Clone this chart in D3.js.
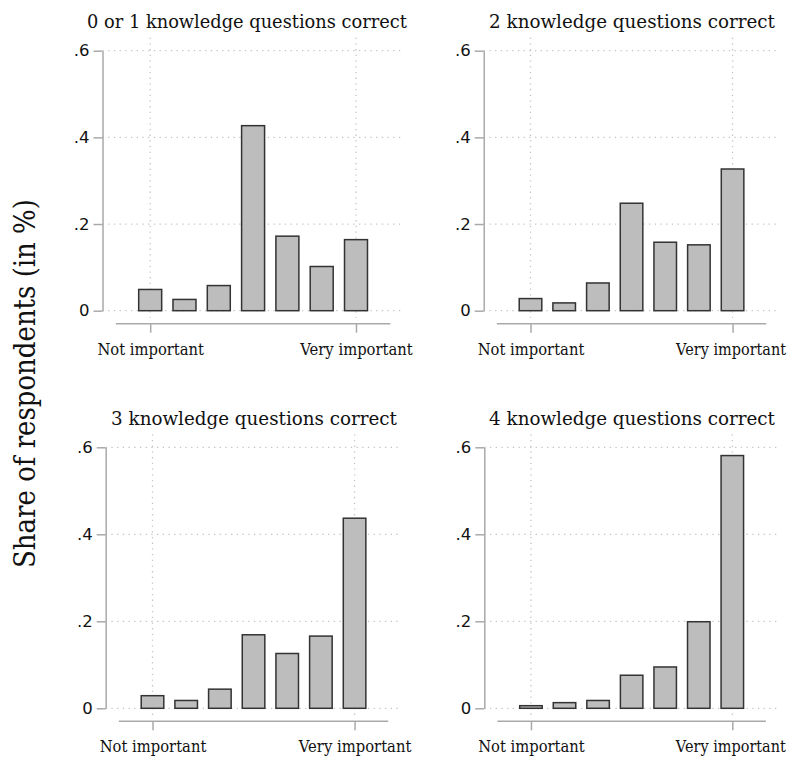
<!DOCTYPE html>
<html>
<head>
<meta charset="utf-8">
<script src="https://cdn.jsdelivr.net/npm/d3@7"></script>
<style>
  html, body { margin: 0; padding: 0; background: #fff; }
  svg { display: block; }
</style>
</head>
<body>
<svg id="chart" width="791" height="760"></svg>
<script>
// ---- data ----
const categories = [1, 2, 3, 4, 5, 6, 7];
const panelTitles = [
  "0 or 1 knowledge questions correct",
  "2 knowledge questions correct",
  "3 knowledge questions correct",
  "4 knowledge questions correct"
];
const share01 = [0.049, 0.026, 0.058, 0.427, 0.172, 0.102, 0.164];
const share2  = [0.028, 0.018, 0.064, 0.248, 0.158, 0.152, 0.327];
const share3  = [0.029, 0.018, 0.044, 0.169, 0.126, 0.166, 0.437];
const share4  = [0.006, 0.013, 0.018, 0.076, 0.095, 0.199, 0.581];
const yTicks = [0, 0.2, 0.4, 0.6];
const yTickLabels = ["0", ".2", ".4", ".6"];
const xTickValues = [1, 7];
const xTickLabels = ["Not important", "Very important"];
const yAxisTitle = "Share of respondents (in %)";

const seriesList = [share01, share2, share3, share4];

// ---- layout ----
const panels = [
  { x0: 102.5, w: 300.5, y0: 310.7, y6: 50.7, titleX: 247, right: false },
  { x0: 483.7, w: 295,   y0: 310.7, y6: 50.7, titleX: 632, right: true },
  { x0: 105.7, w: 295,   y0: 708.3, y6: 447.3, titleX: 254, right: false },
  { x0: 484.3, w: 294,   y0: 708.3, y6: 447.3, titleX: 632, right: true }
];

const serif = "'DejaVu Serif', serif";
const sans = "'DejaVu Sans', sans-serif";
const gridColor = "#c4c4c4";
const axisColor = "#a9a9a9";

const svg = d3.select("#chart");

// place a text at (tx,ty) (with optional rotation), squeezed horizontally to a target width
function placeFitted(sel, tx, ty, target, rot) {
  const w = sel.node().getComputedTextLength();
  const sx = target / w;
  sel.attr("x", 0).attr("y", 0).attr("dy", null)
    .attr("transform", `translate(${tx},${ty})` + (rot ? ` rotate(${rot})` : "") + ` scale(${sx.toFixed(4)},1)`);
}

panels.forEach((p, i) => {
  const data = seriesList[i];
  const g = svg.append("g");
  const x = d3.scaleLinear().domain([-0.39, 8.37]).range([p.x0, p.x0 + p.w]);
  const y = d3.scaleLinear().domain([0, 0.6]).range([p.y0, p.y6]);

  // horizontal gridlines
  g.append("g").selectAll("line").data(yTicks).join("line")
    .attr("x1", p.x0).attr("x2", p.x0 + p.w)
    .attr("y1", d => y(d)).attr("y2", d => y(d))
    .attr("stroke", gridColor).attr("stroke-width", 1.3)
    .attr("stroke-dasharray", "1.3,4.4");

  // vertical gridlines
  g.append("g").selectAll("line").data(xTickValues).join("line")
    .attr("x1", d => x(d)).attr("x2", d => x(d))
    .attr("y1", y(0.6) - 13).attr("y2", y(0) + 7)
    .attr("stroke", gridColor).attr("stroke-width", 1.3)
    .attr("stroke-dasharray", "1.3,4.4");

  // bars
  const half = 0.335;
  g.append("g").selectAll("rect").data(categories).join("rect")
    .attr("x", (d) => x(d - half))
    .attr("width", (d) => x(d + half) - x(d - half))
    .attr("y", (d, j) => y(data[j]))
    .attr("height", (d, j) => y(0) - y(data[j]))
    .attr("fill", "#bdbdbd")
    .attr("stroke", "#333")
    .attr("stroke-width", 1.5);

  // y axis
  const yAxis = d3.axisLeft(y)
    .tickValues(yTicks)
    .tickFormat((d, k) => yTickLabels[k])
    .tickSize(9).tickSizeOuter(0).tickPadding(4);
  const ya = g.append("g").attr("transform", `translate(${p.x0},0)`).call(yAxis);
  ya.select(".domain").attr("stroke", axisColor).attr("stroke-width", 1.5);
  ya.selectAll(".tick line").attr("stroke", axisColor).attr("stroke-width", 1.5);
  ya.selectAll(".tick text").attr("font-family", sans).attr("font-size", 16.5)
    .attr("fill", "#111");

  // x axis
  const xAxisY = y(0) + 13;
  const xAxis = d3.axisBottom(x)
    .tickValues(xTickValues)
    .tickFormat((d, k) => xTickLabels[k])
    .tickSize(9).tickSizeOuter(0).tickPadding(10);
  const xa = g.append("g").attr("transform", `translate(0,${xAxisY})`).call(xAxis);
  xa.select(".domain").remove();
  xa.append("line")
    .attr("x1", x(0)).attr("x2", x(8)).attr("y1", 0).attr("y2", 0)
    .attr("stroke", axisColor).attr("stroke-width", 1.5);
  xa.selectAll(".tick line").attr("stroke", axisColor).attr("stroke-width", 1.5);
  xa.selectAll(".tick text").attr("font-family", serif).attr("font-size", 16.5)
    .attr("fill", "#111");
  xa.selectAll(".tick text").each(function (d, k) {
    const sel = d3.select(this);
    if (k === 1 && p.right) {
      placeFitted(sel, -2, 31, 110);
    } else {
      placeFitted(sel, 0, 31, k === 0 ? 106.7 : 112.7);
    }
  });

  // title
  const t = g.append("text")
    .attr("text-anchor", "middle")
    .attr("font-family", serif).attr("font-size", 18)
    .attr("fill", "#111")
    .text(panelTitles[i]);
  const titleWidths = [320, 286, 286, 286];
  placeFitted(t, p.titleX, p.y0 - 283.2, titleWidths[i]);
});

// y axis title
const yt = svg.append("text")
  .attr("text-anchor", "middle")
  .attr("font-family", serif).attr("font-size", 29)
  .attr("fill", "#111")
  .text(yAxisTitle);
placeFitted(yt, 35, 383.5, 369, -90);
</script>
</body>
</html>
